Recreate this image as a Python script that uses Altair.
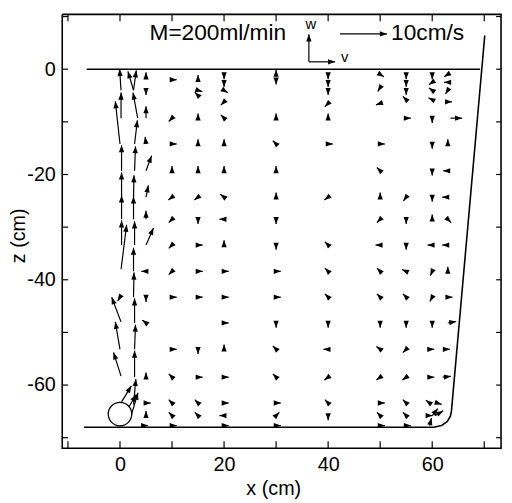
import altair as alt
import pandas as pd
import numpy as np

FONT = "Liberation Sans"
K = 0.9  # plot cm per (cm/s): the 10 cm/s reference arrow spans 9 cm

# ---- vector field, rows of (x, u, w) at a given depth z (u, w in cm/s) ----
row_09 = [(5, 0, 2.5), (10, -0.7, -0.7), (15, 0, 1), (20, -0.7, 0.7), (30, 0, 1), (40, 0, 1),
          (55, 1, 0), (60, 0, -1), (63.5, 2.5, 0)]
row_14 = [(5, -0.2, 1.5), (10, 1, 0), (15, 0, 1), (20, 0, 1), (30, -0.7, 0.7), (40, 1, 0),
          (50, 1, 0), (60, 0, -1), (63, 0, 1)]
row_19 = [(5, 1.2, 3.2), (10, 0, 1), (15, 0, 1), (20, 0, 1), (30, 0, 1), (50, -0.7, 0.7),
          (60, 0, -1), (63, -1, 0)]
row_24 = [(5, 0.5, 2.5), (10, -0.8, -0.6), (15, -0.8, -0.6), (20, -0.8, 0.6), (30, 0, 1),
          (40, -0.8, -0.6), (50, 0, 1), (55, -0.6, -0.8), (60, 0, -1), (63, -1.2, 0)]
row_29 = [(5, 0, 1.8), (10, -0.7, -0.7), (15, 0, -1), (20, -1, 0), (30, 0, -1), (50, -0.7, -0.7),
          (55, 0, -1), (60, 0, 1), (63, 0.7, -0.7)]
row_33 = [(5, 1.6, 3.6), (10, -0.7, -0.7), (15, 1, 0), (20, 0, 1), (30, 0, -1), (40, -0.7, 0.7),
          (50, -1, 0), (55, 0, -1), (60, -1, 0), (63, -1.2, 0)]
row_38 = [(5, -1, 0), (10, -0.7, -0.7), (15, 1, 0), (20, 1, 0), (30, 1, 0), (40, -0.7, 0.7),
          (50, -0.7, 0.7), (55, -0.9, 0.4), (60, -0.4, -0.9), (63, 0, 1)]
row_43 = [(5, 0, -1), (10, 1, 0), (15, 1, 0), (20, 1, 0), (30, 1, 0), (40, -0.7, 0.7),
          (50, -0.7, 0.7), (55, -0.7, 0.7), (60, -0.5, -0.9), (63, 1, 0)]
row_48 = [(5, -0.8, 0.6), (20, 1, 0), (30, 0, -1), (40, 0, -1), (50, 0, -1), (55, 0, -1),
          (60, 0, -1), (63, 1.8, 0.3)]
row_53 = [(10, 1, 0), (15, 0, -1), (20, 0, 1), (30, -0.7, 0.7), (40, -1, 0), (50, -0.8, 0.6),
          (55, -0.7, -0.7), (59.5, 1, 0), (62.5, 1, 0)]
row_58 = [(5, 0, 1), (10, -0.7, 0.7), (15, 1, 0), (20, 1, 0), (30, -0.7, 0.7), (40, -0.8, -0.6),
          (50, -0.8, -0.6), (55, -0.8, -0.6), (59.5, 1, 0), (62, 1.8, 0.2)]
row_63 = [(5, 1, 0), (10, -0.7, 0.7), (15, -0.7, 0.7), (20, 1, 0), (30, 1, 0), (40, -0.7, 0.7),
          (50, 1, 0), (55, -0.7, 0.7), (59.5, -0.8, 0.6), (61, 0.9, -0.3)]
row_66 = [(5, 0, 1), (10, -0.7, 0.7), (15, -0.7, 0.7), (20, -1, 0), (30, 0.7, 0.7), (40, 0, -1),
          (50, -0.7, 0.7), (55, -0.7, 0.7), (59, 1.2, 0), (60, 1.2, 1.5), (60.5, 1.8, 1.0)]
row_68 = [(4.5, 1, 0), (10, 1, 0), (20, 1, 0), (30, 1, 0), (50, 1, 0), (55, 1, 0), (59.5, 0.4, 1.6)]
row_depths = [-9.3, -14.2, -19.3, -24.3, -28.5, -33.4, -38.4, -43.3, -48.2, -53.2, -58.5,
              -63.4, -65.8, -67.7]

# (x, z, u, w) near the free surface
near_surface = [
    (5, -1.5, 0, 1), (5, -4, 0, -1), (10, -2, 1, 0),
    (15, -2, 0, 1), (15, -4, 0.9, -0.3), (15, -5, -0.7, 0.7),
    (20, -1, 0, -1), (20, -2.5, 0, -1), (20, -4, 0.8, -0.5), (20, -6.2, -0.7, -0.7),
    (30, -1, 0, 1), (30, -2, 0, -1),
    (40, -1, 0, -1), (40, -2.5, 0, -1), (40, -4, 0, -1), (40, -6.5, -0.7, -0.7),
    (50, -1, 0.8, -0.5), (50, -3.5, -0.5, -0.8), (50, -6.5, -0.9, -0.3),
    (55, -1, 0, -1), (55, -2.5, 0, -1), (55, -4, 0, -1), (55, -5.8, -0.7, 0.7),
    (60, -1, 0, -1), (60, -2.5, -0.7, -0.5), (60, -4, -0.7, 0.5), (60, -5.8, -0.8, 0.4),
    (63, -1, -0.8, -0.5), (63, -2.5, -0.8, 0), (63, -4, -0.5, -0.8), (63, -6.2, 0.9, 0),
]
# bubble plume (x, z, u, w)
plume_left = [(0.2, -4.0, -0.3, 4.5), (0.2, -9.3, 0, 5.4), (0.0, -14.2, -1.0, 9.0),
              (0.3, -19.3, 0, 5.4), (0.3, -24.3, 0, 5.2), (0.3, -28.5, 0, 5.0), (0.3, -33.4, 0, 5.2),
              (0.2, -38.0, 1.2, 9.4), (0.0, -43.3, -0.5, -0.8),
              (0.2, -48.0, -2.0, 5.2), (0.0, -53.2, -1.0, 5.8), (0.2, -58.3, -1.6, 5.0)]
plume_right = [(2.6, -4.0, -1.2, 4.0), (2.6, -4.0, 0.6, 4.2), (3.4, -9.3, -1.0, 5.4),
               (2.8, -14.2, 0.6, 5.0), (2.8, -19.3, 0.2, 5.2), (2.6, -24.3, 0.1, 4.6),
               (2.6, -28.5, 0, 4.8), (2.8, -33.4, 0, 5.0), (2.6, -38.4, 0, 5.0), (2.6, -43.3, 0.1, 5.2),
               (2.8, -48.2, 0, 5.2), (2.8, -53.2, 0.2, 5.2), (2.8, -58.5, 0, 5.6), (2.6, -63.7, 0.5, 5.4)]
circle_jets = [(0.3, -63.2, 2.1, 3.4), (2.2, -65.6, 1.4, 4.6), (1.5, -64.5, 1.8, 3.0)]

# legend arrows (x, z, u, w)
legend_arrows = [(42.3, 6.7, 10, 0), (36.3, 1.4, 0, 5.8), (36.3, 1.4, 5.6, 0)]

# tank outline
water_x = [-6.4, 69.2]
water_z = [0.0, 0.0]
wall_x = [-6.9, 60.3, 61.8, 62.9, 63.5, 63.7, 70.1]
wall_z = [-68.0, -68.0, -67.7, -66.9, -65.9, -64.9, 6.4]

# plot frame (closed outline), a little inside the view area
FX0, FX1, FZ0, FZ1 = -11.1, 73.23, -72.0, 10.41
frame_x = [FX0, FX1, FX1, FX0, FX0]
frame_z = [FZ1, FZ1, FZ0, FZ0, FZ1]

# diffuser (circle)
circle_x = [0.0]
circle_z = [-65.5]

# texts
text_labels = ["M=200ml/min", "10cm/s"]
text_x = [18.8, 52.1]
text_z = [6.8, 6.8]
text_align = ["center", "left"]
sym_labels = ["w", "v"]
sym_x = [36.7, 43.2]
sym_z = [8.6, 2.3]

x_ticks = [-10, 0, 10, 20, 30, 40, 50, 60, 70]
z_ticks = [10, 0, -10, -20, -30, -40, -50, -60, -70]

W, H = 451, 446
SX, SZ = 5.277, 5.339  # px per cm

records = []
for zz, row in zip(row_depths, [row_09, row_14, row_19, row_24, row_29, row_33, row_38, row_43,
                                row_48, row_53, row_58, row_63, row_66, row_68]):
    records += [(x, zz, u, w) for (x, u, w) in row]
records += near_surface + plume_left + plume_right + circle_jets + legend_arrows

vec = pd.DataFrame(records, columns=["x", "z", "u", "w"])
vec["x2"] = vec["x"] + K * vec["u"]
vec["z2"] = vec["z"] + K * vec["w"]
vec["angle"] = (np.degrees(np.arctan2(vec["u"], vec["w"])) + 360) % 360

x_lo = FX0 - 3 / SX
z_hi = FZ1 + 3 / SZ
xs = alt.Scale(domain=[x_lo, x_lo + W / SX], nice=False, zero=False)
zs = alt.Scale(domain=[z_hi - H / SZ, z_hi], nice=False, zero=False)

x_axis = alt.Axis(values=[0, 20, 40, 60], title="x (cm)", ticks=False, domain=False, grid=False,
                  labelFontSize=20, titleFontSize=20, labelFont=FONT, titleFont=FONT,
                  titleFontWeight="normal", labelPadding=4, titlePadding=4, labelColor="black",
                  titleColor="black", titleX=217)
z_axis = alt.Axis(values=[0, -20, -40, -60], title="z (cm)", ticks=False, domain=False, grid=False,
                  labelFontSize=20, titleFontSize=20, labelFont=FONT, titleFont=FONT,
                  titleFontWeight="normal", labelPadding=4, labelColor="black",
                  titleColor="black", labelExpr="'' + datum.value", titleX=-31, titleY=227)

shafts = alt.Chart(vec).mark_rule(color="black", strokeWidth=1.2).encode(
    x=alt.X("x:Q", scale=xs, axis=x_axis),
    y=alt.Y("z:Q", scale=zs, axis=z_axis),
    x2="x2:Q", y2="z2:Q")

heads = alt.Chart(vec).mark_point(shape="M0,0 L0.6,1.6 L-0.6,1.6 Z", filled=True, size=80,
                                  color="black", opacity=1).encode(
    x="x2:Q", y="z2:Q", angle=alt.Angle("angle:Q", scale=None))

tank = pd.DataFrame({
    "x": water_x + wall_x + frame_x,
    "z": water_z + wall_z + frame_z,
    "seg": ["water"] * len(water_x) + ["wall"] * len(wall_x) + ["frame"] * len(frame_x),
    "ord": list(range(len(water_x))) + list(range(len(wall_x))) + list(range(len(frame_x))),
})
tank_lines = alt.Chart(tank).mark_line(color="black", strokeWidth=1.6).encode(
    x="x:Q", y="z:Q", detail="seg:N", order="ord:Q")

circ = alt.Chart(pd.DataFrame({"x": circle_x, "z": circle_z})).mark_point(
    shape="circle", size=570, filled=False, fill="white", stroke="black", strokeWidth=1.3,
    opacity=1).encode(x="x:Q", y="z:Q")

txt_df = pd.DataFrame({"x": text_x, "z": text_z, "t": text_labels, "a": text_align})
txt_c = alt.Chart(txt_df[txt_df.a == "center"]).mark_text(
    font=FONT, fontSize=23, align="center", baseline="middle", color="black").encode(
    x="x:Q", y="z:Q", text="t:N")
txt_l = alt.Chart(txt_df[txt_df.a == "left"]).mark_text(
    font=FONT, fontSize=23, align="left", baseline="middle", color="black").encode(
    x="x:Q", y="z:Q", text="t:N")
sym = alt.Chart(pd.DataFrame({"x": sym_x, "z": sym_z, "t": sym_labels})).mark_text(
    font=FONT, fontSize=15, align="center", baseline="middle", color="black").encode(
    x="x:Q", y="z:Q", text="t:N")

xt = pd.DataFrame({"x": x_ticks})
zt = pd.DataFrame({"z": z_ticks})
tick_b = alt.Chart(xt).mark_rule(color="black", strokeWidth=1.2).encode(
    x="x:Q", y=alt.datum(FZ0), y2=alt.datum(FZ0 + 7 / SZ))
tick_t = alt.Chart(xt).mark_rule(color="black", strokeWidth=1.2).encode(
    x="x:Q", y=alt.datum(FZ1), y2=alt.datum(FZ1 - 7 / SZ))
tick_l = alt.Chart(zt).mark_rule(color="black", strokeWidth=1.2).encode(
    y="z:Q", x=alt.datum(FX0), x2=alt.datum(FX0 + 6 / SX))
tick_r = alt.Chart(zt).mark_rule(color="black", strokeWidth=1.2).encode(
    y="z:Q", x=alt.datum(FX1), x2=alt.datum(FX1 - 5 / SX))

chart = alt.layer(
    shafts, heads, tank_lines, circ, txt_c, txt_l, sym, tick_b, tick_t, tick_l, tick_r
).properties(
    width=W, height=H,
    autosize=alt.AutoSizeParams(type="none"),
    padding={"left": 52, "top": 0, "right": 0, "bottom": 48},
).configure(background="white").configure_view(strokeWidth=0)

chart.save("out.html", embed_options={"renderer": "svg", "actions": False})
